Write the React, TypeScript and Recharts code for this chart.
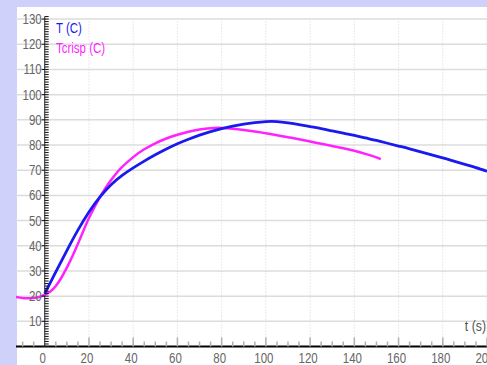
import React from "react";
import {
  LineChart,
  Line,
  XAxis,
  YAxis,
  ReferenceLine,
  Legend,
  Label,
} from "recharts";

// time axis (s) and temperatures (C)
const T_TIME = [
  0, 5, 10, 15, 20, 25, 30, 35, 40, 45, 50, 55, 60, 65, 70, 75, 80, 85, 90, 95,
  100, 105, 110, 115, 120, 125, 130, 135, 140, 145, 150, 155, 160, 165, 170,
  175, 180, 185, 190, 195, 200,
];
const T_VALUES = [
  21, 29.6, 38.1, 46.2, 53.4, 59.4, 64.2, 67.9, 70.9, 73.6, 76.1, 78.4, 80.5,
  82.3, 83.9, 85.3, 86.5, 87.5, 88.3, 88.9, 89.3, 89.3, 88.8, 88.1, 87.3, 86.5,
  85.6, 84.7, 83.8, 82.8, 81.8, 80.7, 79.6, 78.5, 77.3, 76.1, 74.9, 73.6, 72.3,
  71.0, 69.6,
];

const CRISP_TIME = [
  -13, -10, -7, -4, -2, 0, 2.5, 5, 7.5, 10, 12.5, 15, 17.5, 20, 22.5, 25, 27.5,
  30, 32.5, 35, 40, 45, 50, 55, 60, 65, 70, 75, 80, 85, 90, 95, 100, 105, 110,
  115, 120, 125, 130, 135, 140, 145, 150, 152,
];
const CRISP_VALUES = [
  19.7, 19.3, 19.2, 19.4, 19.8, 20.6, 21.8, 24, 27.3, 31.3, 35.8, 40.8, 46, 51,
  55.3, 59.4, 63, 66.1, 68.9, 71.3, 75.2, 78.3, 80.7, 82.6, 84.1, 85.3, 86.2,
  86.7, 86.8, 86.5, 86.0, 85.4, 84.7, 83.9, 83.1, 82.3, 81.4, 80.5, 79.6, 78.7,
  77.7, 76.5, 75.1, 74.4,
];

const X_MIN = -13;
const X_MAX = 200;
const Y_MIN = 0;
const Y_MAX = 134.8;

const X_LABELS = [0, 20, 40, 60, 80, 100, 120, 140, 160, 180, 200];
const X_MINOR = Array.from({ length: 43 }, (_, i) => -10 + i * 5);
const Y_LABELS = [10, 20, 30, 40, 50, 60, 70, 80, 90, 100, 110, 120, 130];
const Y_MINOR = Array.from({ length: 132 }, (_, i) => i);

const CHART_W = 470;
const CHART_H = 358;
const FONT = "'Liberation Sans', Arial, sans-serif";
const NARROW = 0.82; // squeeze Liberation Sans to look like a narrow face

const tData = T_TIME.map((t, i) => ({ t, v: T_VALUES[i] }));
const crispData = CRISP_TIME.map((t, i) => ({ t, v: CRISP_VALUES[i] }));

// pixel position of t = 0 inside the plot (where the y axis sits)
const Y_AXIS_PX = ((0 - X_MIN) / (X_MAX - X_MIN)) * CHART_W;

const NarrowText = ({ x, y, anchor, size, fill, children }: any) => (
  <g transform={`translate(${x},${y}) scale(${NARROW},1)`}>
    <text
      x={0}
      y={0}
      textAnchor={anchor}
      fontSize={size}
      fontFamily={FONT}
      fill={fill}
    >
      {children}
    </text>
  </g>
);

const YTick = (props: any) => {
  const { y, payload } = props;
  const major = payload.value % 10 === 0;
  return (
    <g>
      <line
        x1={Y_AXIS_PX - (major ? 3 : 0)}
        x2={Y_AXIS_PX + 4}
        y1={y}
        y2={y}
        stroke="#111"
        strokeWidth={1}
      />
      {major && payload.value > 0 && (
        <NarrowText x={Y_AXIS_PX - 3} y={y + 5} anchor="end" size={14} fill="#666">
          {payload.value}
        </NarrowText>
      )}
    </g>
  );
};

const XTick = (props: any) => {
  const { x, y, payload } = props;
  const major = payload.value % 20 === 0;
  return (
    <g>
      {payload.value !== 0 && (
        <line
          x1={x}
          x2={x}
          y1={y}
          y2={y - (major ? 9 : 5)}
          stroke="#b0b0b0"
          strokeWidth={1.5}
        />
      )}
      {major && payload.value >= 0 && (
        <NarrowText x={x - 2} y={y + 16} anchor="middle" size={14} fill="#666">
          {payload.value}
        </NarrowText>
      )}
    </g>
  );
};

const LegendBox = (props: any) => {
  const { payload } = props;
  return (
    <div
      style={{
        fontFamily: FONT,
        fontSize: 14,
        lineHeight: "20px",
        transform: `scaleX(${NARROW})`,
        transformOrigin: "left top",
        whiteSpace: "nowrap",
      }}
    >
      {(payload || []).map((entry: any) => (
        <div key={entry.value} style={{ color: entry.color }}>
          {entry.value}
        </div>
      ))}
    </div>
  );
};

export default function App() {
  return (
    <div
      style={{
        position: "absolute",
        left: 0,
        top: 0,
        width: 487,
        height: 365,
        background: "#d0d1fa",
        overflow: "hidden",
      }}
    >
      <div
        style={{
          position: "absolute",
          left: 17,
          top: 7,
          width: CHART_W,
          height: CHART_H,
          background: "#fff",
        }}
      >
        <LineChart
          width={CHART_W + 1}
          height={CHART_H}
          margin={{ top: 0, right: 0, bottom: 0, left: -1 }}
          style={{ marginLeft: -1 }}
        >
          {Y_LABELS.map((v) => (
            <ReferenceLine
              key={"h" + v}
              y={v}
              stroke="#dcdcdc"
              strokeWidth={1.5}
            />
          ))}
          {X_LABELS.filter((v) => v > 0).map((v) => (
            <ReferenceLine
              key={"v" + v}
              segment={[
                { x: v, y: 0 },
                { x: v, y: 130 },
              ]}
              stroke="#d4d4d4"
              strokeDasharray="1 2"
              ifOverflow="visible"
            />
          ))}
          <XAxis
            type="number"
            dataKey="t"
            domain={[X_MIN, X_MAX]}
            allowDataOverflow
            ticks={X_MINOR}
            interval={0}
            tick={<XTick />}
            tickLine={false}
            tickSize={0}
            tickMargin={0}
            height={18.5}
            axisLine={{ stroke: "#000", strokeWidth: 2 }}
          >
            <Label
              content={(p: any) => {
                const vb = p.viewBox || {};
                return (
                  <NarrowText
                    x={vb.x + vb.width - 1}
                    y={vb.y - 16}
                    anchor="end"
                    size={15}
                    fill="#555"
                  >
                    t (s)
                  </NarrowText>
                );
              }}
            />
          </XAxis>
          <YAxis
            type="number"
            domain={[Y_MIN, Y_MAX]}
            allowDataOverflow
            ticks={Y_MINOR}
            interval={0}
            width={1}
            tick={<YTick />}
            tickLine={false}
            axisLine={false}
          />
          <ReferenceLine
            segment={[
              { x: 0, y: 0 },
              { x: 0, y: 131 },
            ]}
            stroke="#222"
            strokeWidth={1}
          />
          <Legend
            layout="vertical"
            align="center"
            verticalAlign="middle"
            content={<LegendBox />}
            wrapperStyle={{ left: 40, top: 11, width: "auto", height: "auto" }}
          />
          <Line
            data={crispData}
            dataKey="v"
            name="Tcrisp (C)"
            type="natural"
            stroke="#ff22ff"
            strokeWidth={2.5}
            dot={false}
            isAnimationActive={false}
          />
          <Line
            data={tData}
            dataKey="v"
            name="T (C)"
            type="natural"
            stroke="#1a1aee"
            strokeWidth={2.8}
            dot={false}
            isAnimationActive={false}
          />
        </LineChart>
      </div>
    </div>
  );
}
